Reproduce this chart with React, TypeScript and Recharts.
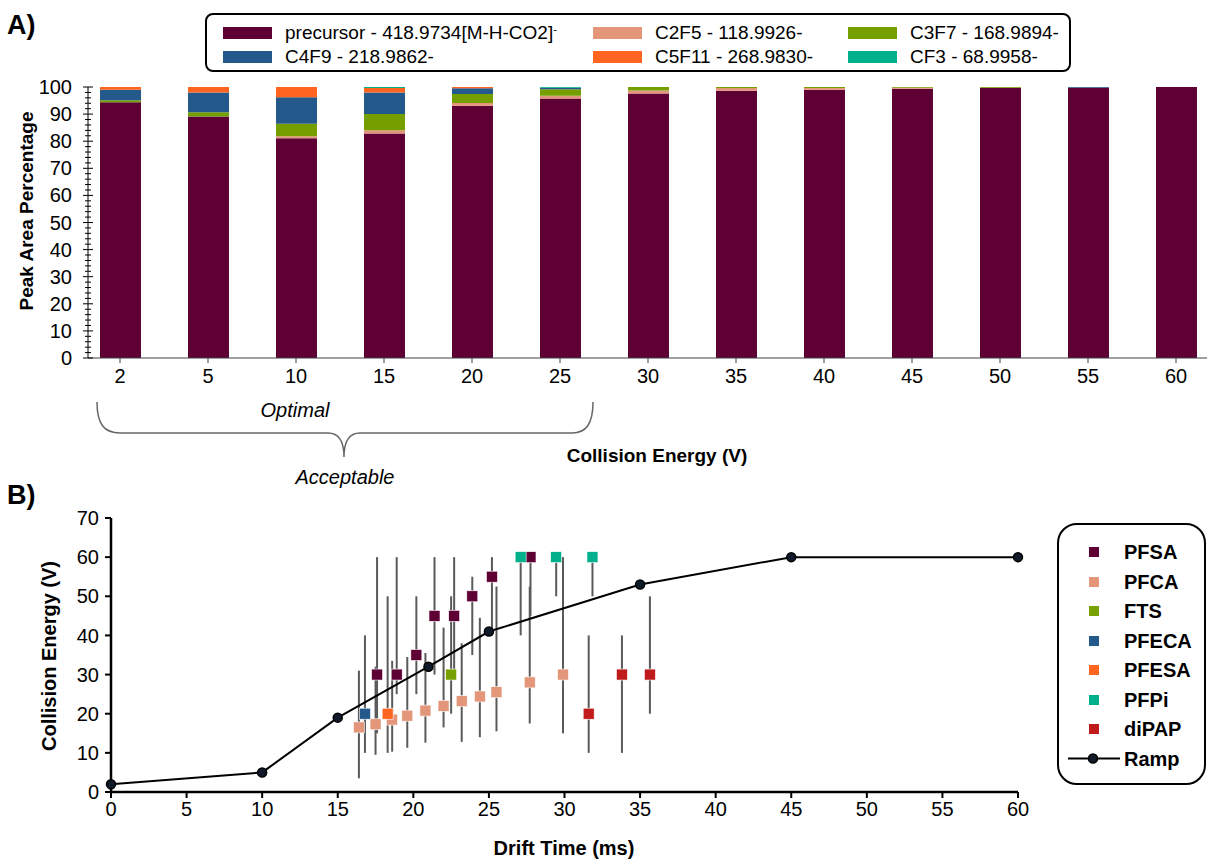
import React from 'react';
import { BarChart, Bar, XAxis, YAxis, Legend, ScatterChart, Scatter, ErrorBar } from 'recharts';

const FONT = "'Liberation Sans', Arial, sans-serif";

// ---------- Panel A data ----------
const categories = ['2', '5', '10', '15', '20', '25', '30', '35', '40', '45', '50', '55', '60'];
const precursor = [94.4, 89.1, 81.1, 82.8, 93.1, 95.8, 97.6, 98.6, 99.0, 99.4, 99.7, 99.7, 100];
const c2f5 = [0, 0, 0.7, 1.2, 1.0, 1.0, 1.1, 1.0, 0.6, 0.3, 0, 0, 0];
const c3f7 = [0.7, 1.6, 4.6, 6.0, 3.3, 2.4, 1.3, 0.4, 0.4, 0.3, 0.3, 0, 0];
const c4f9 = [3.9, 7.3, 9.8, 8.0, 2.1, 0.5, 0, 0, 0, 0, 0, 0.3, 0];
const c5f11 = [1.0, 2.0, 3.8, 1.6, 0.5, 0, 0, 0, 0, 0, 0, 0, 0];
const cf3 = [0, 0, 0, 0.4, 0, 0.3, 0, 0, 0, 0, 0, 0, 0];
const yTicksA = Array.from({ length: 51 }, (_, i) => i * 2);

const barSeries = [
  { key: 'precursor', name: 'precursor - 418.9734[M-H-CO2]', sup: '-', color: '#5e0034', values: precursor },
  { key: 'c2f5', name: 'C2F5 - 118.9926-', sup: '', color: '#e3967a', values: c2f5 },
  { key: 'c3f7', name: 'C3F7 - 168.9894-', sup: '', color: '#759f00', values: c3f7 },
  { key: 'c4f9', name: 'C4F9 - 218.9862-', sup: '', color: '#245a8b', values: c4f9 },
  { key: 'c5f11', name: 'C5F11 - 268.9830-', sup: '', color: '#ff6420', values: c5f11 },
  { key: 'cf3', name: 'CF3 - 68.9958-', sup: '', color: '#00b08c', values: cf3 },
];

const barData = categories.map((c, i) => {
  const row: any = { ce: c };
  barSeries.forEach((s) => { row[s.key] = s.values[i]; });
  return row;
});

// ---------- Panel B data ----------
// [drift time, CE, CE low, CE high]
const PFSA = [[17.6, 30, 15, 60], [18.9, 30, 25, 60], [20.2, 35, 25, 50], [21.4, 45, 30, 60], [22.7, 45, 30, 60], [23.9, 50, 35, 55], [25.2, 55, 40, 60], [27.75, 60, 45, 60]];
const PFCA = [[16.4, 16.5, 3.5, 31], [17.5, 17.3, 9.5, 32], [18.6, 18.5, 10.3, 33.5], [19.6, 19.5, 11.3, 34.5], [20.8, 20.8, 12.6, 35.5], [22.0, 22, 16.5, 42], [23.2, 23.2, 12.8, 38], [24.4, 24.4, 14, 44.5], [25.5, 25.5, 15.5, 52.5], [27.7, 28, 17.5, 52.5], [29.9, 30, 15, 60]];
const FTS = [[22.5, 30, 20, 50]];
const PFECA = [[16.8, 20, 10, 40]];
const PFESA = [[18.3, 20, 10, 50]];
const PFPi = [[27.1, 60, 40, 60], [29.45, 60, 50, 60], [31.85, 60, 50, 60]];
const diPAP = [[31.6, 20, 10, 40], [33.8, 30, 10, 40], [35.65, 30, 20, 50]];
const rampX = [0, 10, 15, 21, 25, 35, 45, 60];
const rampY = [2, 5, 19, 32, 41, 53, 60, 60];
const xTicksB = [0, 5, 10, 15, 20, 25, 30, 35, 40, 45, 50, 55, 60];
const yTicksB = [0, 10, 20, 30, 40, 50, 60, 70];

const scatterSeries = [
  { name: 'PFSA', color: '#5e0034', pts: PFSA },
  { name: 'PFCA', color: '#e3967a', pts: PFCA },
  { name: 'FTS', color: '#78a000', pts: FTS },
  { name: 'PFECA', color: '#245a8b', pts: PFECA },
  { name: 'PFESA', color: '#ff6420', pts: PFESA },
  { name: 'PFPi', color: '#00b08c', pts: PFPi },
  { name: 'diPAP', color: '#c01a1a', pts: diPAP },
];
const toScatter = (pts: number[][]) => pts.map(([x, y, lo, hi]) => ({ x, y, err: [y - lo, hi - y] }));
const rampData = rampX.map((x, i) => ({ x, y: rampY[i] }));

// ---------- custom renderers ----------
const YTickA = (props: any) => {
  const { x, y, payload } = props;
  const ax = x + 16;
  const v = payload.value;
  const major = v % 10 === 0;
  const h = major ? 5 : 3;
  return (
    <g>
      <line x1={ax - h} x2={ax + h} y1={y} y2={y} stroke="#000" strokeWidth={1} />
      {major && (
        <text x={x} y={y} dy="0.35em" textAnchor="end" fontSize={20} fontFamily={FONT} fill="#000">{v}</text>
      )}
    </g>
  );
};

const LegendA = () => (
  <div style={{ width: 866, height: 59, border: '2px solid #000', borderRadius: 8, boxSizing: 'border-box', position: 'relative', background: '#fff', fontFamily: FONT }}>
    {barSeries.map((s, i) => {
      const col = i % 3;
      const row = Math.floor(i / 3);
      const sx = [16, 386, 641][col];
      const cy = [18, 42][row];
      return (
        <React.Fragment key={s.key}>
          <div style={{ position: 'absolute', left: sx, top: cy - 6, width: 49, height: 12, background: s.color }} />
          <div style={{ position: 'absolute', left: sx + 62, top: cy - 11, fontSize: 19, lineHeight: '22px', whiteSpace: 'nowrap', color: '#000' }}>
            {s.name}{s.sup ? <sup style={{ fontSize: 11, verticalAlign: 'top', position: 'relative', top: -4 }}>{s.sup}</sup> : null}
          </div>
        </React.Fragment>
      );
    })}
  </div>
);

const LegendB = () => (
  <div style={{ width: 149, height: 262, border: '2px solid #000', borderRadius: 20, boxSizing: 'border-box', position: 'relative', background: '#fff', fontFamily: FONT }}>
    {scatterSeries.map((s, i) => {
      const cy = 27 + i * 29.5;
      return (
        <React.Fragment key={s.name}>
          <div style={{ position: 'absolute', left: 30, top: cy - 5, width: 10, height: 10, background: s.color }} />
          <div style={{ position: 'absolute', left: 65, top: cy - 12, fontSize: 20, lineHeight: '24px', fontWeight: 'bold', color: '#000' }}>{s.name}</div>
        </React.Fragment>
      );
    })}
    <svg style={{ position: 'absolute', left: 0, top: 0 }} width={149} height={262}>
      <line x1={9} x2={61} y1={27 + 7 * 29.5} y2={27 + 7 * 29.5} stroke="#000" strokeWidth={2} />
      <circle cx={34} cy={27 + 7 * 29.5} r={4.5} fill="#111a2a" stroke="#000" strokeWidth={1.5} />
    </svg>
    <div style={{ position: 'absolute', left: 65, top: 27 + 7 * 29.5 - 12, fontSize: 20, lineHeight: '24px', fontWeight: 'bold', color: '#000' }}>Ramp</div>
  </div>
);

const squareShape = (color: string) => (props: any) => {
  const { cx, cy } = props;
  if (cx == null || cy == null) return <g />;
  return <rect x={cx - 5.5} y={cy - 5.5} width={11} height={11} fill={color} stroke="#ffffff" strokeWidth={0.6} />;
};

const rampDot = (props: any) => {
  const { cx, cy } = props;
  if (cx == null || cy == null) return <g />;
  return <circle cx={cx} cy={cy} r={4.5} fill="#111a2a" stroke="#000" strokeWidth={1.5} />;
};

const textStyle: React.CSSProperties = { position: 'absolute', fontFamily: FONT, color: '#000', whiteSpace: 'nowrap' };

export default function App() {
  return (
    <div style={{ position: 'absolute', left: 0, top: 0, width: 1207, height: 860, overflow: 'hidden', background: '#fff', fontFamily: FONT }}>
      {/* Panel A */}
      <div style={{ position: 'absolute', left: 0, top: 0 }}>
        <BarChart width={1240} height={400} data={barData} margin={{ top: 87, right: 20, bottom: 12, left: 28 }} barCategoryGap={0}>
          <XAxis
            dataKey="ce"
            height={30}
            interval={0}
            padding={{ left: -12, right: 0 }}
            axisLine={{ stroke: '#404040', strokeWidth: 1 }}
            tickLine={{ stroke: '#404040' }}
            tickSize={5}
            tickMargin={6}
            tick={{ fontSize: 20, fill: '#000', fontFamily: FONT }}
          />
          <YAxis
            width={60}
            type="number"
            domain={[0, 100]}
            allowDataOverflow
            ticks={yTicksA}
            interval={0}
            tickSize={0}
            tickMargin={16}
            tickLine={false}
            axisLine={{ stroke: '#000', strokeWidth: 1 }}
            tick={<YTickA />}
          />
          {barSeries.map((s) => (
            <Bar key={s.key} dataKey={s.key} name={s.name} stackId="a" fill={s.color} barSize={41} isAnimationActive={false} />
          ))}
          <Legend layout="vertical" align="center" verticalAlign="middle" content={<LegendA />} wrapperStyle={{ left: 205, top: 13, width: 866, height: 59 }} />
        </BarChart>
      </div>

      {/* Panel B */}
      <div style={{ position: 'absolute', left: 0, top: 480 }}>
        <ScatterChart width={1207} height={380} margin={{ top: 38, right: 189, bottom: 38, left: 51 }}>
          <XAxis
            type="number"
            dataKey="x"
            domain={[0, 60]}
            ticks={xTicksB}
            interval={0}
            height={30}
            axisLine={{ stroke: '#000', strokeWidth: 2.5 }}
            tickLine={{ stroke: '#000', strokeWidth: 2 }}
            tickSize={6}
            tickMargin={4}
            tick={{ fontSize: 20, fill: '#000', fontFamily: FONT }}
          />
          <YAxis
            type="number"
            dataKey="y"
            domain={[0, 70]}
            ticks={yTicksB}
            interval={0}
            width={60}
            axisLine={{ stroke: '#000', strokeWidth: 2.5 }}
            tickLine={{ stroke: '#000', strokeWidth: 2 }}
            tickSize={6}
            tickMargin={6}
            tick={{ fontSize: 20, fill: '#000', fontFamily: FONT }}
          />
          {scatterSeries.map((s) => (
            <Scatter key={s.name} name={s.name} data={toScatter(s.pts)} fill={s.color} shape={squareShape(s.color)} isAnimationActive={false}>
              <ErrorBar dataKey="err" direction="y" width={0} stroke="#5a5a5a" strokeWidth={2} />
            </Scatter>
          ))}
          <Scatter name="Ramp" data={rampData} fill="#111a2a" line={{ stroke: '#000', strokeWidth: 2 }} lineType="joint" shape={rampDot} isAnimationActive={false} />
          <Legend layout="vertical" align="center" verticalAlign="middle" content={<LegendB />} wrapperStyle={{ left: 1057, top: 43, width: 149, height: 262 }} />
        </ScatterChart>
      </div>

      {/* Overlays: panel labels, axis titles, brace */}
      <div style={{ ...textStyle, left: 7, top: 10, fontSize: 27, fontWeight: 'bold' }}>A)</div>
      <div style={{ ...textStyle, left: 7, top: 480, fontSize: 27, fontWeight: 'bold' }}>B)</div>
      <div style={{ ...textStyle, left: 27, top: 211, fontSize: 19, fontWeight: 'bold', transform: 'translate(-50%, -50%) rotate(-90deg)' }}>Peak Area Percentage</div>
      <div style={{ ...textStyle, left: 49, top: 656, fontSize: 20, fontWeight: 'bold', transform: 'translate(-50%, -50%) rotate(-90deg)' }}>Collision Energy (V)</div>
      <div style={{ ...textStyle, left: 657, top: 456, fontSize: 19, fontWeight: 'bold', transform: 'translate(-50%, -50%)' }}>Collision Energy (V)</div>
      <div style={{ ...textStyle, left: 564, top: 848, fontSize: 20, fontWeight: 'bold', transform: 'translate(-50%, -50%)' }}>Drift Time (ms)</div>
      <div style={{ ...textStyle, left: 295, top: 410, fontSize: 20, fontStyle: 'italic', transform: 'translate(-50%, -50%)' }}>Optimal</div>
      <div style={{ ...textStyle, left: 345, top: 477, fontSize: 20, fontStyle: 'italic', transform: 'translate(-50%, -50%)' }}>Acceptable</div>
      <svg style={{ position: 'absolute', left: 0, top: 0, pointerEvents: 'none' }} width={1207} height={860}>
        <path d="M97,402 C97,424 104,433 120,433 L328,433 C338,433 344,440 344,457 C344,440 350,433 360,433 L572,433 C586,433 593,424 593,402" fill="none" stroke="#666" strokeWidth={1.5} />
      </svg>
    </div>
  );
}
